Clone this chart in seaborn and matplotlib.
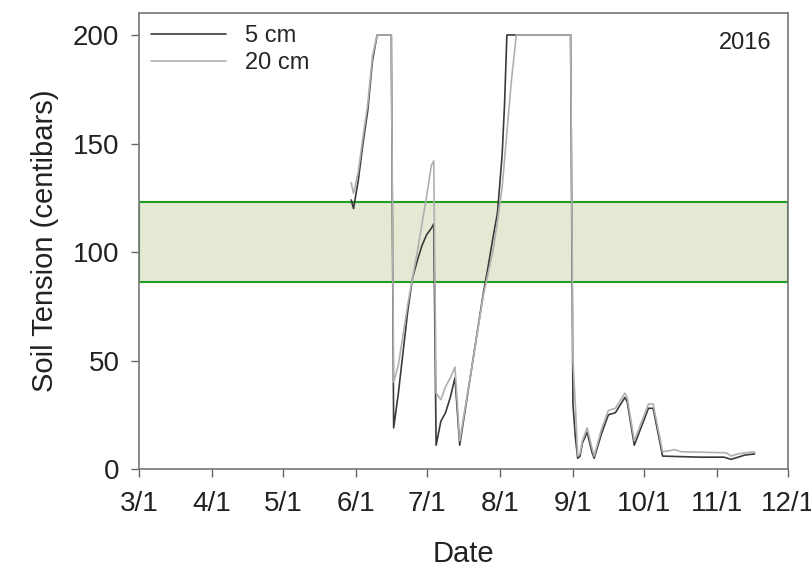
"""
Soil tension at 5 cm and 20 cm depth, 2016 season.
"""

import pandas as pd
import seaborn as sns
import matplotlib.pyplot as plt
import matplotlib.dates as mdates
from matplotlib.ticker import FuncFormatter

# 5 cm sensor
dates_5cm = ['2016-05-30', '2016-05-31', '2016-06-02', '2016-06-04', '2016-06-06', '2016-06-08',
             '2016-06-10', '2016-06-16', '2016-06-17', '2016-06-19', '2016-06-21', '2016-06-23',
             '2016-06-25', '2016-06-27', '2016-06-29', '2016-07-01', '2016-07-03', '2016-07-04',
             '2016-07-05', '2016-07-07', '2016-07-09', '2016-07-11', '2016-07-13', '2016-07-15',
             '2016-07-20', '2016-07-25', '2016-07-27', '2016-07-29', '2016-07-31', '2016-08-02',
             '2016-08-03', '2016-08-04', '2016-08-31', '2016-09-01', '2016-09-02', '2016-09-03',
             '2016-09-04', '2016-09-05', '2016-09-07', '2016-09-09', '2016-09-10', '2016-09-13',
             '2016-09-16', '2016-09-19', '2016-09-23', '2016-09-24', '2016-09-27', '2016-10-03',
             '2016-10-05', '2016-10-09', '2016-10-15', '2016-10-25', '2016-11-04', '2016-11-07',
             '2016-11-10', '2016-11-13', '2016-11-17']
tension_5cm = [124, 120, 133, 150, 165, 188,
               200, 200, 19, 35, 54, 73,
               88, 96, 103, 108, 111, 113,
               11, 22, 26, 33, 42, 11,
               46, 81, 93, 106, 118, 145,
               168, 200, 200, 30, 15, 5,
               6, 12, 17, 8, 5, 16,
               25, 26, 33, 31, 11, 28,
               28, 6, 5.8, 5.5, 5.5, 4.5,
               5.5, 6.5, 7]

# 20 cm sensor
dates_20cm = ['2016-05-30', '2016-05-31', '2016-06-02', '2016-06-04', '2016-06-06', '2016-06-08',
              '2016-06-10', '2016-06-16', '2016-06-17', '2016-06-19', '2016-06-21', '2016-06-23',
              '2016-06-25', '2016-06-27', '2016-06-29', '2016-07-01', '2016-07-03', '2016-07-04',
              '2016-07-05', '2016-07-07', '2016-07-09', '2016-07-11', '2016-07-13', '2016-07-15',
              '2016-07-20', '2016-07-25', '2016-07-27', '2016-07-29', '2016-07-31', '2016-08-02',
              '2016-08-04', '2016-08-06', '2016-08-08', '2016-08-31', '2016-09-01', '2016-09-02',
              '2016-09-03', '2016-09-04', '2016-09-05', '2016-09-07', '2016-09-09', '2016-09-10',
              '2016-09-13', '2016-09-16', '2016-09-19', '2016-09-23', '2016-09-24', '2016-09-27',
              '2016-10-03', '2016-10-05', '2016-10-09', '2016-10-12', '2016-10-14', '2016-10-17',
              '2016-10-25', '2016-11-05', '2016-11-07', '2016-11-10', '2016-11-13', '2016-11-17']
tension_20cm = [132, 127, 137, 153, 168, 190,
                200, 200, 40, 48, 62, 76,
                88, 100, 113, 126, 140, 142,
                35, 32, 38, 42, 47, 13,
                46, 80, 90, 100, 114, 130,
                155, 180, 200, 200, 50, 30,
                6, 7, 13, 19, 10, 6,
                18, 27, 28, 35, 33, 13,
                30, 30, 8, 8.5, 9, 8,
                7.8, 7.5, 6, 7, 7.5, 8]

# optimal tension range (shaded band)
band_low, band_high = 86, 123

df = pd.concat([
    pd.DataFrame({'Date': pd.to_datetime(dates_5cm), 'Tension': tension_5cm, 'Depth': '5 cm'}),
    pd.DataFrame({'Date': pd.to_datetime(dates_20cm), 'Tension': tension_20cm, 'Depth': '20 cm'}),
], ignore_index=True)

sns.set_style('white')
plt.rcParams['font.family'] = ['Liberation Sans', 'DejaVu Sans']

fig = plt.figure(figsize=(8.12, 5.77), dpi=100)
ax = fig.add_axes([0.171, 0.187, 0.799, 0.79])

ax.axhspan(band_low, band_high, facecolor='#e4e9d4', edgecolor='#1f9e1f', linewidth=1.5, zorder=0)

sns.lineplot(data=df, x='Date', y='Tension', hue='Depth', estimator=None, sort=False,
             palette={'5 cm': '#3a3a3a', '20 cm': '#b0b0b0'}, ax=ax)
for line in ax.get_lines():
    line.set_linewidth(1.2)

ax.set_xlim(pd.Timestamp('2016-03-01'), pd.Timestamp('2016-12-01'))
ax.set_ylim(0, 210)
ax.set_yticks([0, 50, 100, 150, 200])
ax.xaxis.set_major_locator(mdates.MonthLocator())
ax.xaxis.set_major_formatter(FuncFormatter(lambda v, p: f"{mdates.num2date(v).month}/{mdates.num2date(v).day}"))

ax.tick_params(axis='both', direction='out', length=6, width=1, color='#666666',
               labelsize=20, labelcolor='#222222', bottom=True, left=True)
ax.tick_params(axis='x', pad=10)
ax.tick_params(axis='y', pad=8)
for s in ax.spines.values():
    s.set_color('#777777')
    s.set_linewidth(1.2)

ax.set_xlabel('Date', fontsize=21, color='#222222', labelpad=16)
ax.set_ylabel('Soil Tension (centibars)', fontsize=21, color='#222222', labelpad=10)

ax.legend(loc='upper left', frameon=False, fontsize=17, handlelength=3.2,
          borderaxespad=0.1, labelspacing=0.2, bbox_to_anchor=(0.0, 1.0))
ax.text(0.975, 0.96, '2016', transform=ax.transAxes, ha='right', va='top',
        fontsize=17, color='#222222')

plt.savefig('out.png', dpi=100)
